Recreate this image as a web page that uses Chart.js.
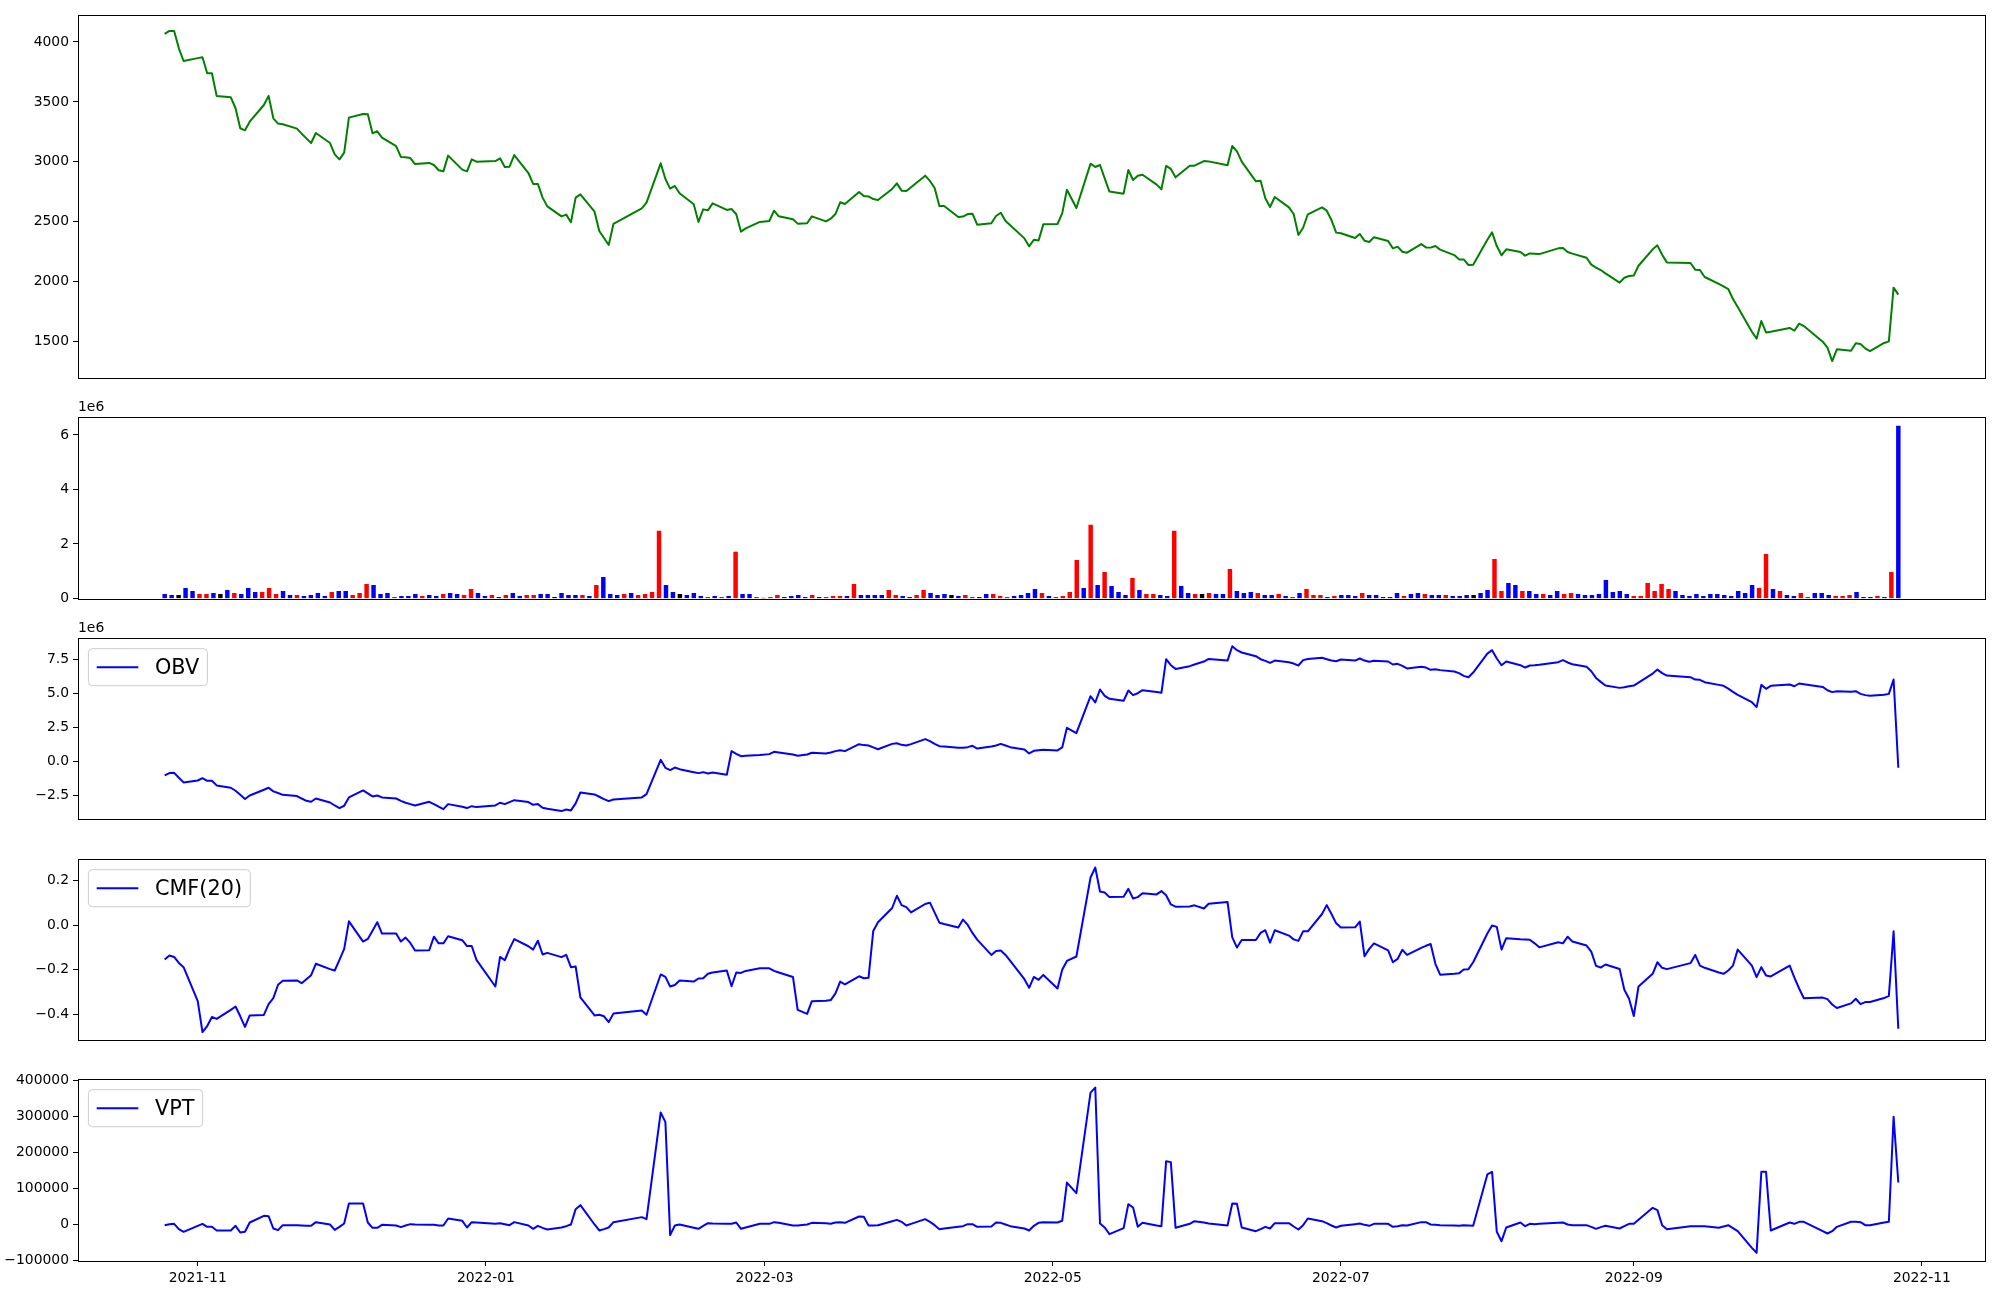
<!DOCTYPE html>
<html>
<head>
<meta charset="utf-8">
<title>Price / Volume / OBV / CMF / VPT</title>
<script src="https://cdn.jsdelivr.net/npm/chart.js@4.4.1/dist/chart.umd.min.js"></script>
<style>
  body { margin: 0; background: #fff; }
  canvas { position: absolute; left: 0; }
</style>
</head>
<body>
<canvas id="price" width="2000" height="410" style="top:0px"></canvas>
<canvas id="volume" width="2000" height="240" style="top:380px"></canvas>
<canvas id="obv" width="2000" height="240" style="top:600px"></canvas>
<canvas id="cmf" width="2000" height="240" style="top:820px"></canvas>
<canvas id="vpt" width="2000" height="260" style="top:1040px"></canvas>
<script>
// ---- data ----
const firstDay = '2021-10-25';
const lastDay = '2022-10-27';
// KRX closed days inside the range (weekends are skipped too)
const holidays = ['2021-12-31', '2022-01-31', '2022-02-01', '2022-02-02', '2022-03-01', '2022-03-09',
  '2022-05-05', '2022-06-01', '2022-06-06', '2022-08-15', '2022-09-09', '2022-09-12', '2022-10-03', '2022-10-10'];

// one line per month
const close = [
  4067, 4092, 4092, 3947, 3841,
  3865, 3872, 3739, 3739, 3550, 3538, 3447, 3280, 3263, 3335, 3474, 3550, 3363, 3319, 3313, 3277, 3235, 3196, 3157, 3241, 3157, 3063,
  3021, 3077, 3369, 3399, 3397, 3238, 3255, 3202, 3132, 3041, 3038, 3032, 2982, 2991, 2974, 2930, 2921, 3052, 2935, 2921, 3021, 3002,
  3007, 3030, 2957, 2960, 3057, 2907, 2816, 2816, 2702, 2629, 2546, 2560, 2496, 2702, 2729, 2585, 2424, 2365, 2307, 2482,
  2613, 2660, 2988, 2857, 2777, 2799, 2738, 2646, 2499, 2604, 2596, 2654, 2599, 2607, 2563, 2418, 2446, 2499,
  2507, 2593, 2546, 2521, 2485, 2488, 2546, 2504, 2526, 2565, 2663, 2649, 2749, 2716, 2712, 2690, 2682, 2774, 2821, 2760, 2757,
  2788, 2885, 2841, 2782, 2632, 2632, 2540, 2544, 2565, 2568, 2476, 2488, 2549, 2576, 2507, 2471, 2362, 2296, 2351, 2345, 2479,
  2482, 2571, 2768, 2615, 2985, 2957, 2974, 2863, 2752, 2735, 2932, 2849, 2885, 2893, 2810, 2771, 2966, 2941, 2871, 2968, 2968,
  3007, 3004, 2971, 3132, 3088, 3002, 2838, 2842, 2696, 2624, 2707, 2621, 2565, 2390, 2451, 2563, 2621, 2593, 2515, 2410,
  2405, 2365, 2399, 2343, 2332, 2371, 2340, 2279, 2293, 2251, 2243, 2315, 2287, 2285, 2298, 2268, 2223, 2187, 2187, 2140, 2143,
  2351, 2412, 2298, 2221, 2271, 2248, 2218, 2237, 2234, 2231, 2279, 2282, 2248, 2235, 2201, 2143, 2118, 2098, 2070, 1993, 2034, 2048,
  2052, 2134, 2271, 2304, 2226, 2162, 2157, 2101, 2098, 2040, 1982, 1962, 1940, 1856, 1790, 1584, 1526, 1673, 1578, 1584,
  1615, 1592, 1651, 1631, 1501, 1451, 1339, 1437, 1425, 1487, 1481, 1445, 1423, 1490, 1503, 1951, 1893
];

// volume, millions of shares, in bar order (10 bars per line)
const volumeMil = [
  0.154, 0.118, 0.118, 0.375, 0.265, 0.154, 0.154, 0.19, 0.154, 0.30,
  0.19, 0.154, 0.375, 0.228, 0.228, 0.375, 0.154, 0.265, 0.118, 0.118,
  0.081, 0.118, 0.19, 0.081, 0.228, 0.265, 0.265, 0.118, 0.19, 0.52,
  0.485, 0.154, 0.19, 0.044, 0.081, 0.081, 0.154, 0.081, 0.118, 0.081,
  0.154, 0.19, 0.154, 0.118, 0.34, 0.19, 0.081, 0.118, 0.044, 0.118,
  0.19, 0.081, 0.118, 0.118, 0.154, 0.154, 0.044, 0.19, 0.118, 0.118,
  0.118, 0.081, 0.485, 0.78, 0.154, 0.118, 0.154, 0.19, 0.118, 0.154,
  0.228, 2.47, 0.485, 0.228, 0.154, 0.118, 0.19, 0.081, 0.044, 0.081,
  0.044, 0.081, 1.70, 0.154, 0.154, 0.044, 0.01, 0.044, 0.118, 0.044,
  0.081, 0.118, 0.044, 0.118, 0.044, 0.044, 0.081, 0.081, 0.081, 0.52,
  0.118, 0.118, 0.118, 0.118, 0.30, 0.118, 0.081, 0.044, 0.118, 0.30,
  0.19, 0.118, 0.154, 0.118, 0.081, 0.118, 0.044, 0.044, 0.154, 0.154,
  0.081, 0.044, 0.081, 0.118, 0.19, 0.34, 0.19, 0.081, 0.044, 0.081,
  0.228, 1.40, 0.375, 2.69, 0.485, 0.96, 0.45, 0.228, 0.118, 0.74,
  0.30, 0.154, 0.154, 0.118, 0.081, 2.47, 0.45, 0.19, 0.154, 0.154,
  0.19, 0.154, 0.154, 1.07, 0.265, 0.19, 0.228, 0.19, 0.118, 0.118,
  0.154, 0.081, 0.044, 0.19, 0.34, 0.118, 0.118, 0.044, 0.081, 0.118,
  0.118, 0.081, 0.19, 0.118, 0.118, 0.044, 0.044, 0.19, 0.081, 0.154,
  0.19, 0.154, 0.118, 0.118, 0.118, 0.081, 0.081, 0.118, 0.118, 0.19,
  0.30, 1.44, 0.265, 0.56, 0.485, 0.265, 0.265, 0.154, 0.154, 0.118,
  0.265, 0.154, 0.19, 0.154, 0.118, 0.118, 0.154, 0.67, 0.228, 0.265,
  0.154, 0.081, 0.081, 0.56, 0.265, 0.52, 0.34, 0.265, 0.118, 0.081,
  0.154, 0.081, 0.154, 0.154, 0.118, 0.081, 0.265, 0.19, 0.485, 0.375,
  1.62, 0.34, 0.265, 0.118, 0.081, 0.19, 0.044, 0.19, 0.19, 0.118,
  0.081, 0.081, 0.118, 0.228, 0.044, 0.044, 0.081, 0.044, 0.96, 6.33
];

// bar colour class: 1 = red, -1 = blue, 0 = black (same order as volumeMil)
const barDir = [
  -1, -1, 0, -1, -1, 1, 1, -1, 0, -1,
  1, -1, -1, -1, 1, 1, 1, -1, -1, 1,
  -1, -1, -1, -1, 1, -1, -1, 1, 1, 1,
  -1, -1, -1, 1, -1, -1, -1, 1, -1, -1,
  1, -1, -1, 1, 1, -1, -1, 1, -1, 1,
  -1, -1, 1, 1, -1, -1, 0, -1, -1, -1,
  1, -1, 1, -1, -1, -1, 1, -1, 1, 1,
  1, 1, -1, -1, 0, -1, -1, -1, 1, -1,
  1, -1, 1, -1, -1, 1, 1, 1, 1, -1,
  -1, -1, -1, 1, -1, 1, 1, 1, -1, 1,
  -1, -1, -1, -1, 1, 1, -1, -1, 1, 1,
  -1, -1, -1, 0, -1, 1, 1, -1, -1, 1,
  1, 1, -1, -1, -1, -1, 1, -1, 1, 1,
  1, 1, -1, 1, -1, 1, -1, -1, -1, 1,
  -1, 1, 1, -1, -1, 1, -1, -1, 1, 0,
  1, -1, -1, 1, -1, -1, -1, 1, -1, -1,
  1, -1, 1, -1, 1, 1, 1, -1, 1, -1,
  -1, -1, 1, -1, -1, -1, -1, -1, 1, -1,
  -1, 1, -1, -1, 1, -1, -1, -1, 0, -1,
  -1, 1, 1, -1, -1, 1, -1, -1, 1, -1,
  -1, 1, 1, -1, -1, -1, -1, -1, -1, -1,
  -1, 1, 1, 1, 1, 1, 1, -1, -1, -1,
  -1, -1, -1, -1, -1, -1, -1, -1, -1, 1,
  1, -1, 1, -1, -1, 1, 1, -1, -1, -1,
  1, 1, 1, -1, -1, -1, 1, -1, 1, -1
];

// on-balance volume, millions (one line per month)
const obvMil = [
  -1.01, -0.84, -0.82, -1.18, -1.52,
  -1.38, -1.21, -1.40, -1.40, -1.74, -1.91, -2.13, -2.43, -2.74, -2.48, -2.06, -1.91, -2.18, -2.30, -2.43, -2.52, -2.70, -2.87, -2.94, -2.70, -2.99, -3.21,
  -3.40, -3.23, -2.62, -2.11, -2.33, -2.55, -2.48, -2.62, -2.70, -2.87, -3.01, -3.11, -3.21, -2.94, -3.11, -3.30, -3.48, -3.11, -3.30, -3.40, -3.26, -3.33,
  -3.21, -3.01, -3.11, -2.96, -2.82, -2.96, -3.16, -3.11, -3.38, -3.45, -3.62, -3.50, -3.57, -3.06, -2.26, -2.40, -2.57, -2.74, -2.89, -2.77,
  -2.62, -2.38, 0.13, -0.45, -0.62, -0.43, -0.55, -0.77, -0.84, -0.77, -0.87, -0.79, -0.96, 0.77, 0.57, 0.40, 0.43, 0.48,
  0.55, 0.72, 0.67, 0.52, 0.43, 0.52, 0.65, 0.60, 0.67, 0.77, 0.84, 0.77, 1.28, 1.21, 1.18, 1.04, 0.91, 1.30, 1.35, 1.23, 1.18,
  1.28, 1.65, 1.50, 1.30, 1.13, 1.11, 1.01, 1.01, 1.06, 1.16, 0.96, 1.11, 1.18, 1.30, 1.18, 1.06, 0.89, 0.60, 0.79, 0.84, 0.87,
  0.82, 1.04, 2.48, 2.09, 4.79, 4.33, 5.28, 4.82, 4.60, 4.45, 5.21, 4.87, 5.01, 5.23, 5.09, 5.04, 7.50, 7.06, 6.79, 6.99, 7.11,
  7.33, 7.52, 7.40, 8.45, 8.16, 7.99, 7.72, 7.50, 7.38, 7.23, 7.40, 7.28, 7.18, 7.04, 7.43, 7.52, 7.60, 7.50, 7.40, 7.35,
  7.48, 7.40, 7.55, 7.40, 7.31, 7.38, 7.33, 7.11, 7.16, 7.01, 6.82, 6.94, 6.89, 6.72, 6.77, 6.70, 6.60, 6.48, 6.28, 6.18, 6.52,
  7.91, 8.16, 7.55, 7.06, 7.33, 7.06, 6.89, 7.04, 7.06, 7.09, 7.28, 7.43, 7.26, 7.13, 6.94, 6.62, 6.13, 5.84, 5.57, 5.40, 5.45, 5.52,
  5.57, 5.79, 6.45, 6.74, 6.48, 6.30, 6.18, 6.01, 5.99, 5.82, 5.62, 5.55, 5.35, 5.11, 4.89, 4.35, 3.99, 5.62, 5.33, 5.55,
  5.65, 5.52, 5.72, 5.67, 5.47, 5.23, 5.09, 5.16, 5.11, 5.16, 4.96, 4.87, 4.82, 4.89, 4.96, 6.01, -0.45
];

// Chaikin money flow, 20 days
const cmf20 = [
  -0.154, -0.136, -0.142, -0.169, -0.188,
  -0.341, -0.480, -0.453, -0.412, -0.421, -0.380, -0.365, -0.409, -0.457, -0.405, -0.403, -0.354, -0.327, -0.267, -0.249, -0.248, -0.260, -0.242, -0.224, -0.173, -0.197, -0.203,
  -0.155, -0.106, 0.018, -0.073, -0.061, -0.024, 0.014, -0.037, -0.037, -0.073, -0.055, -0.079, -0.113, -0.112, -0.051, -0.081, -0.081, -0.049, -0.067, -0.093, -0.093, -0.155,
  -0.275, -0.142, -0.157, -0.106, -0.062, -0.094, -0.109, -0.069, -0.131, -0.124, -0.143, -0.133, -0.188, -0.185, -0.324, -0.405, -0.402, -0.409, -0.435, -0.397,
  -0.383, -0.402, -0.221, -0.232, -0.275, -0.268, -0.248, -0.253, -0.239, -0.238, -0.218, -0.212, -0.203, -0.274, -0.212, -0.214, -0.205, -0.193,
  -0.193, -0.205, -0.212, -0.232, -0.380, -0.398, -0.341, -0.339, -0.336, -0.306, -0.253, -0.266, -0.229, -0.238, -0.236, -0.025, 0.014, 0.078, 0.133, 0.091, 0.082,
  0.058, 0.096, 0.102, 0.057, 0.012, 0.006, -0.010, 0.026, 0.002, -0.034, -0.064, -0.133, -0.115, -0.113, -0.133, -0.160, -0.242, -0.281, -0.232, -0.245, -0.223,
  -0.284, -0.200, -0.160, -0.140, 0.215, 0.260, 0.152, 0.148, 0.127, 0.129, 0.164, 0.121, 0.127, 0.144, 0.139, 0.154, 0.135, 0.094, 0.084, 0.085, 0.090,
  0.076, 0.097, 0.105, -0.054, -0.100, -0.066, -0.066, -0.034, -0.022, -0.078, -0.022, -0.046, -0.063, -0.070, -0.027, -0.027, 0.051, 0.091, 0.051, 0.009,
  -0.010, -0.009, 0.017, -0.139, -0.106, -0.081, -0.113, -0.166, -0.151, -0.110, -0.133, -0.101, -0.092, -0.084, -0.173, -0.222, -0.218, -0.216, -0.199, -0.197, -0.166,
  -0.037, -0.001, -0.007, -0.109, -0.058, -0.063, -0.064, -0.065, -0.081, -0.099, -0.076, -0.081, -0.051, -0.073, -0.091, -0.118, -0.182, -0.190, -0.176, -0.196, -0.290, -0.330,
  -0.408, -0.275, -0.218, -0.166, -0.191, -0.197, -0.170, -0.133, -0.181, -0.191, -0.212, -0.218, -0.203, -0.181, -0.109, -0.181, -0.233, -0.188, -0.226, -0.230,
  -0.181, -0.235, -0.284, -0.328, -0.325, -0.332, -0.356, -0.372, -0.351, -0.330, -0.354, -0.345, -0.345, -0.327, -0.317, -0.027, -0.465
];

// volume price trend
const vpt = [
  -1400, 1400, 2300, -12500, -19900,
  -3200, 2300, -6000, -6000, -16200, -16200, -3200, -21800, -19900, 6000, 24600, 23600, -10700, -15300, -1400, -1400, -2300, -3200, -3200, 7000, 500, -14400,
  -6000, 3200, 58900, 58900, 6000, -8800, -8800, -500, -2300, -6900, -2300, 1400, 500, -500, -500, -2300, -2300, 17100, 10700, -7900, 7000, 6000,
  2300, 4200, 1400, -1400, 7000, -2300, -11600, -3200, -8800, -13400, -7900, -4200, 500, 43100, 54200, 500, -16200, -12500, -7900, 7000,
  20900, 15300, 311900, 285000, -29200, -2300, 500, -8800, -11600, -3200, 4200, 3200, 2300, 2300, 6000, -11600, -7900, 2300,
  2300, 7000, 5100, -2300, -2300, 500, 5100, 4200, 2300, 6000, 7000, 5100, 22700, 21800, -2300, -2300, -1400, 9700, 13400, 7900, -2300,
  2300, 15300, 7900, -1400, -12500, -10700, -6000, -4200, 1400, 1400, -6000, -5100, 6000, 5100, 500, -4200, -10700, -16200, -3200, 5100, 7000,
  6000, 10700, 117000, 87600, 367000, 381000, 3200, -7900, -26400, -9700, 57000, 47700, -6000, 5100, -2300, -4200, 176500, 173800, -8800, 2300, 9700,
  6000, 3200, -2300, 58900, 57900, -7900, -18100, -12500, -6000, -10700, 4200, 4200, -5100, -13400, -1400, 17100, 9700, 4200, -2300, -7900,
  -3200, 1400, 3200, -500, -3200, 2300, 2300, -6000, -4200, -1400, -2300, 7000, 7000, 500, -500, -1400, -2300, -3200, -1400, -2300, -3200,
  139500, 146900, -19900, -45900, -7900, 6000, -4200, 2300, 1400, 2300, 5100, 6000, 500, -1400, -1400, -6000, -11600, -6900, -3200, -10700, -4200, 2300,
  2300, 13400, 46800, 40300, -1400, -12500, -4200, -4200, -4200, -4200, -8800, -5100, -1400, -9700, -18100, -64400, -78300, 146900, 146900, -16200,
  6000, 2300, 7900, 7900, -18100, -24600, -18100, -6000, 7900, 7900, 7000, -1400, -1400, 6000, 7900, 299700, 117200
];

const xTickLabels = ['2021-11', '2022-01', '2022-03', '2022-05', '2022-07', '2022-09', '2022-11'];
const priceTicks = [1500, 2000, 2500, 3000, 3500, 4000];
const volumeTicks = [0, 2, 4, 6];
const obvTicks = [-2.5, 0, 2.5, 5, 7.5];
const cmfTicks = [-0.4, -0.2, 0, 0.2];
const vptTicks = [-100000, 0, 100000, 200000, 300000, 400000];

// ---- dates -> day numbers ----
const dayOf = s => { const p = s.split('-').map(Number); return Date.UTC(p[0], p[1] - 1, p[2] || 1) / 864e5; };
const iso = t => new Date(t * 864e5).toISOString().slice(0, 10);
const tradingDays = [];
for (let t = dayOf(firstDay); t <= dayOf(lastDay); t++) {
  const wd = new Date(t * 864e5).getUTCDay();
  if (wd === 0 || wd === 6 || holidays.includes(iso(t))) continue;
  tradingDays.push(t);
}

const pts = arr => arr.map((v, i) => ({ x: tradingDays[i], y: v }));
const span = tradingDays[tradingDays.length - 1] - tradingDays[0];
// the volume bars sit evenly spaced between the first and the last date
const barPts = volumeMil.map((v, i) => ({ x: tradingDays[0] + i * span / (volumeMil.length - 1), y: v }));
const barColors = barDir.map(d => d > 0 ? 'red' : d < 0 ? 'blue' : 'black');

// ---- shared axis setup ----
const FONT = { family: '"DejaVu Sans", sans-serif', size: 13.9 };
const xMin = tradingDays[0] - 0.05 * span;
const xMax = tradingDays[tradingDays.length - 1] + 0.05 * span;
const xTicks = xTickLabels.map(dayOf);
const minus = s => s.replace('-', '\u2212');

function xAxis(show) {
  return {
    type: 'linear', min: xMin, max: xMax, offset: false, display: show,
    afterBuildTicks: s => { s.ticks = xTicks.map(v => ({ value: v })); },
    afterFit: s => { if (show) s.height = 39; },
    ticks: { font: FONT, color: '#000', padding: 4, maxRotation: 0, autoSkip: false,
             callback: (v, i) => xTickLabels[i] },
    grid: { drawOnChartArea: false, drawTicks: true, tickLength: 5, tickColor: '#000', offset: false },
    border: { display: false }
  };
}

function yAxis(min, max, ticks, fmt) {
  return {
    min, max,
    afterBuildTicks: s => { s.ticks = ticks.map(v => ({ value: v })); },
    afterFit: s => { s.width = 78; },
    ticks: { font: FONT, color: '#000', padding: 4, callback: (v, i) => minus(fmt(ticks[i])) },
    grid: { drawOnChartArea: false, drawTicks: true, tickLength: 5, tickColor: '#000' },
    border: { display: false }
  };
}

// frame, offset text ("1e6") and matplotlib-like legend box
const decor = {
  id: 'decor',
  afterDatasetsDraw(chart, args, o) {
    const { ctx, chartArea: a } = chart;
    ctx.save();
    ctx.strokeStyle = '#000';
    ctx.lineWidth = 1;
    const l = Math.round(a.left) + 0.5, t = Math.round(a.top) + 0.5;
    ctx.strokeRect(l, t, Math.round(a.right) - Math.round(a.left), Math.round(a.bottom) - Math.round(a.top));
    if (o.offsetText) {
      ctx.font = '13.9px "DejaVu Sans"';
      ctx.fillStyle = '#000';
      ctx.textAlign = 'left';
      ctx.textBaseline = 'bottom';
      ctx.fillText(o.offsetText, a.left, a.top - 3);
    }
    if (o.boxLegend) {
      const ds = chart.data.datasets[0];
      const fs = 20.8, pad = 8.3, handle = 41.6, gap = 16.6;
      ctx.font = fs + 'px "DejaVu Sans"';
      const tw = ctx.measureText(ds.label).width;
      const x = a.left + 10.4, y = a.top + 10.4, w = pad + handle + gap + tw + pad, h = 37;
      ctx.beginPath();
      ctx.roundRect(x, y, w, h, 4);
      ctx.fillStyle = 'rgba(255,255,255,0.8)';
      ctx.fill();
      ctx.strokeStyle = '#cccccc';
      ctx.stroke();
      ctx.beginPath();
      ctx.moveTo(x + pad, y + h / 2);
      ctx.lineTo(x + pad + handle, y + h / 2);
      ctx.strokeStyle = ds.borderColor;
      ctx.lineWidth = 2;
      ctx.stroke();
      ctx.fillStyle = '#000';
      ctx.textAlign = 'left';
      ctx.textBaseline = 'middle';
      ctx.fillText(ds.label, x + pad + handle + gap, y + h / 2 + 1);
    }
    ctx.restore();
  }
};
Chart.register(decor);

function panel(id, type, datasets, y, o) {
  return new Chart(document.getElementById(id), {
    type,
    data: { datasets },
    options: {
      responsive: false, animation: false, events: [],
      layout: { padding: { left: 0, right: 15, top: o.top, bottom: o.bottom } },
      elements: { line: { borderWidth: 2, tension: 0, borderJoinStyle: 'round' }, point: { radius: 0 } },
      scales: { x: xAxis(!!o.showX), y },
      plugins: {
        legend: { display: false }, tooltip: { enabled: false },
        decor: { offsetText: o.offsetText, boxLegend: o.boxLegend }
      }
    }
  });
}

panel('price', 'line',
  [{ label: 'Close', data: pts(close), borderColor: 'green' }],
  yAxis(1198, 4222, priceTicks, v => String(v)),
  { top: 15.3, bottom: 32 });

panel('volume', 'bar',
  [{ label: 'Volume', data: barPts, backgroundColor: barColors, barThickness: 3.8, borderWidth: 0 }],
  yAxis(0, 6.66, volumeTicks, v => String(v)),
  { top: 37, bottom: 21.5, offsetText: '1e6' });

panel('obv', 'line',
  [{ label: 'OBV', data: pts(obvMil), borderColor: 'blue' }],
  yAxis(-4.2, 9.03, obvTicks, v => v.toFixed(1)),
  { top: 38.3, bottom: 21, offsetText: '1e6', boxLegend: true });

panel('cmf', 'line',
  [{ label: 'CMF(20)', data: pts(cmf20), borderColor: 'blue' }],
  yAxis(-0.517, 0.297, cmfTicks, v => v.toFixed(1)),
  { top: 39.3, bottom: 19.7, boxLegend: true });

panel('vpt', 'line',
  [{ label: 'VPT', data: pts(vpt), borderColor: 'blue' }],
  yAxis(-101000, 404000, vptTicks, v => String(v)),
  { top: 39.3, bottom: 0, showX: true, boxLegend: true });
</script>
</body>
</html>
